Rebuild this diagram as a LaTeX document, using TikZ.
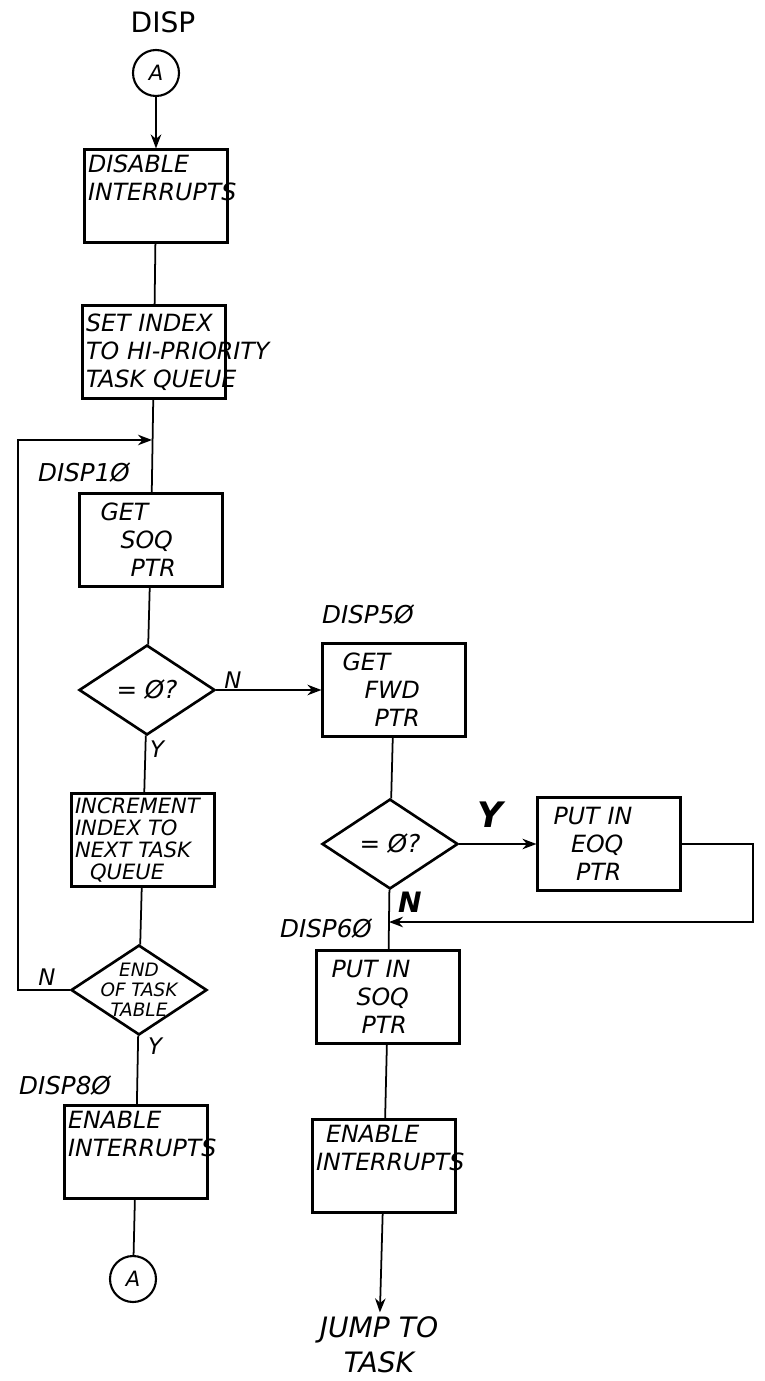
\documentclass[tikz,border=0pt]{standalone}
\usepackage{fontspec}
\setmainfont{DejaVu Sans}
\usetikzlibrary{shapes,arrows.meta}
\tikzstyle{box}=[rectangle,draw=black,line width=1.2pt,minimum width=2.85cm,
  minimum height=1.86cm,text width=2.72cm,inner sep=2pt,align=left,
  font=\itshape\fontsize{13.5}{16}\selectfont]
\tikzstyle{dec}=[diamond,draw=black,line width=1.5pt,minimum width=2.72cm,
  minimum height=1.8cm,inner sep=0pt,font=\itshape\fontsize{14}{16}\selectfont]
\tikzstyle{dectext}=[align=center,font=\itshape\fontsize{10.5}{11.5}\selectfont]
\tikzstyle{conn}=[circle,draw=black,line width=1.2pt,minimum size=0.92cm,
  inner sep=0pt,font=\itshape\fontsize{12}{14}\selectfont]
\tikzstyle{tag}=[inner sep=1pt,font=\itshape\fontsize{14}{16}\selectfont]
\tikzstyle{yn}=[inner sep=1pt,font=\itshape\fontsize{13}{15}\selectfont]
\tikzstyle{endtext}=[align=center,inner sep=2pt,font=\itshape\fontsize{16}{20}\selectfont]

\begin{document}
\begin{tikzpicture}[x=0.02cm,y=-0.02cm,>={Stealth[length=8pt,width=6pt]},line width=1pt]
    \useasboundingbox (0,0) rectangle (764,1381);
    % left column
    \node [style=tag,font=\fontsize{16}{18}\selectfont] (title) at (163,22) {DISP};
    \node [style=conn] (a1) at (156,73) {A};
    \node [style=box] (b1) at (156,196) {DISABLE\\INTERRUPTS\\ \strut};
    \node [style=box] (b2) at (154,352) {SET INDEX\\\mbox{TO HI-PRIORITY}\\\mbox{TASK QUEUE}};
    \node [style=tag] (l10) at (84,473) {DISP1Ø};
    \node [style=box] (b3) at (151,540) {\hspace*{0.35cm}GET\\\hspace*{0.75cm}SOQ\\\hspace*{0.95cm}PTR};
    \node [style=dec] (d1) at (147,690) {= Ø?};
    \node [style=box,font=\itshape\fontsize{12}{12.5}\selectfont] (b4) at (143,840)
      {INCREMENT\\INDEX TO\\NEXT TASK\\\hspace*{0.3cm}QUEUE};
    \node [style=dec,label={[style=dectext]center:{END\\OF TASK\\TABLE}}] (d2) at (139,990) {};
    \node [style=tag] (l80) at (65,1086) {DISP8Ø};
    \node [style=box] (b5) at (136,1152) {ENABLE\\INTERRUPTS\\ \strut};
    \node [style=conn] (a2) at (133,1279) {A};
    % right column
    \node [style=tag] (l50) at (368,615) {DISP5Ø};
    \node [style=box] (b6) at (394,690) {\hspace*{0.33cm}GET\\\hspace*{0.77cm}FWD\\\hspace*{0.97cm}PTR};
    \node [style=dec] (d3) at (390,844) {= Ø?};
    \node [style=box] (b7) at (609,844) {\hspace*{0.25cm}PUT IN\\\hspace*{0.6cm}EOQ\\\hspace*{0.7cm}PTR};
    \node [style=tag] (l60) at (326,929) {DISP6Ø};
    \node [style=box] (b8) at (388,997) {\hspace*{0.23cm}PUT IN\\\hspace*{0.73cm}SOQ\\\hspace*{0.83cm}PTR};
    \node [style=box] (b9) at (384,1166) {\hspace*{0.2cm}ENABLE\\INTERRUPTS\\ \strut};
    \node [style=endtext] (jump) at (379,1345) {JUMP TO\\TASK};
    % branch letters
    \node [style=yn] (n1) at (233,680) {N};
    \node [style=yn] (y1) at (157,749) {Y};
    \node [style=yn,font=\itshape\bfseries\fontsize{20}{22}\selectfont] (y3) at (490,815) {Y};
    \node [style=yn,font=\itshape\bfseries\fontsize{16}{18}\selectfont] (n3) at (410,902) {N};
    \node [style=yn] (n2) at (47,977) {N};
    \node [style=yn] (y2) at (155,1046) {Y};
    % loop and return points
    \coordinate (loopcorner) at (18,440);
    \coordinate (loopin) at (152,440);
    \coordinate (retcorner) at (753,922);
    \coordinate (join) at (389,922);
    \draw [->] (a1) to (b1);
    \draw (b1) to (b2);
    \draw (b2) to (b3);
    \draw (b3) to (d1);
    \draw (d1) to (b4);
    \draw (b4) to (d2);
    \draw (d2) to (b5);
    \draw (b5) to (a2);
    \draw [->] (d2.west) -| (loopcorner) -- (loopin);
    \draw [->] (d1.east) to (b6.west);
    \draw (b6) to (d3);
    \draw [->] (d3.east) to (b7.west);
    \draw (d3) to (b8);
    \draw [->] (b7.east) -| (retcorner) -- (join);
    \draw (b8) to (b9);
    \draw [->] (b9) to (jump);
\end{tikzpicture}
\end{document}
